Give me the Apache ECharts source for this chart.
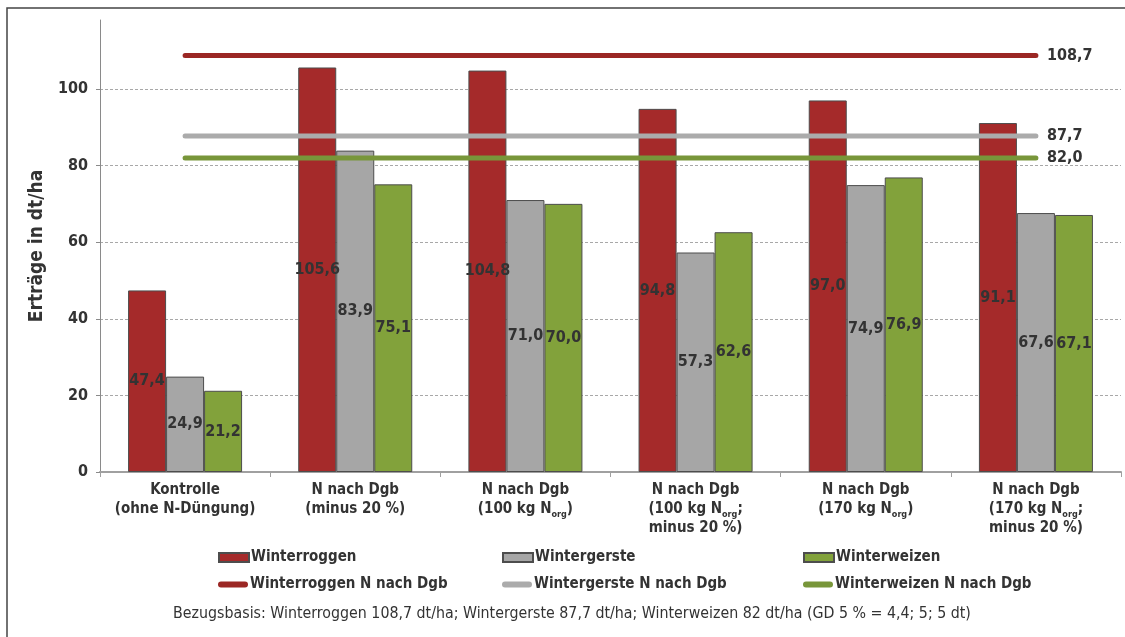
<!DOCTYPE html>
<html>
<head>
<meta charset="utf-8">
<script src="https://cdn.jsdelivr.net/npm/echarts@6/dist/echarts.min.js"></script>
<style>
  html, body { margin: 0; padding: 0; background: #fff; }
  #chart { width: 1125px; height: 637px; }
</style>
</head>
<body>
<div id="chart"></div>
<script>
// Treatments (x axis); "Norg" is drawn as N with subscript "org"
const categories = [
  'Kontrolle\n(ohne N-Düngung)',
  'N nach Dgb\n(minus 20 %)',
  'N nach Dgb\n(100 kg Norg)',
  'N nach Dgb\n(100 kg Norg;\nminus 20 %)',
  'N nach Dgb\n(170 kg Norg)',
  'N nach Dgb\n(170 kg Norg;\nminus 20 %)'
];

// Yields in dt/ha
const winterroggen = [47.4, 105.6, 104.8, 94.8, 97.0, 91.1];
const wintergerste = [24.9, 83.9, 71.0, 57.3, 74.9, 67.6];
const winterweizen = [21.2, 75.1, 70.0, 62.6, 76.9, 67.1];

// Reference yields with full N fertilisation per Düngebedarf
const refRoggen = 108.7;
const refGerste = 87.7;
const refWeizen = 82.0;

const yTicks = [0, 20, 40, 60, 80, 100];

const footnote = 'Bezugsbasis: Winterroggen 108,7 dt/ha; Wintergerste 87,7 dt/ha; Winterweizen 82 dt/ha (GD 5 % = 4,4; 5; 5 dt)';

const FONT = "'Liberation Sans Narrow', 'DejaVu Sans Condensed', 'Liberation Sans', sans-serif";
const TXT = '#333333';

const C_ROGGEN = '#a52a2a';
const C_GERSTE = '#a6a6a6';
const C_WEIZEN = '#82a23b';
const L_ROGGEN = '#9b2724';
const L_GERSTE = '#ababab';
const L_WEIZEN = '#78963a';

const comma = v => Number(v).toFixed(1).replace('.', ',');

function barSeries(name, data, color) {
  return {
    name, type: 'bar', data,
    barGap: '0%', barCategoryGap: '33%',
    itemStyle: { color, borderColor: '#4d4d4d', borderWidth: 1 },
    label: {
      show: true, position: 'inside', color: TXT,
      fontFamily: FONT, fontWeight: 'bold', fontSize: 16,
      formatter: p => comma(p.value)
    },
    z: 2
  };
}

function refSeries(name, value, color) {
  return {
    name, type: 'line',
    data: categories.map(() => value),
    symbol: 'none', silent: true,
    lineStyle: { color, width: 5, cap: 'round' },
    itemStyle: { color },
    endLabel: {
      show: true, distance: 11, color: TXT,
      fontFamily: FONT, fontWeight: 'bold', fontSize: 16,
      formatter: p => comma(p.value)
    },
    z: 4
  };
}

const lineIcon = 'path://M3,0 L27,0 A3,3 0 0 1 27,6 L3,6 A3,3 0 0 1 3,0 Z';

function legendAt(name, left, top, isLine) {
  return {
    data: [name], left, top,
    icon: isLine ? lineIcon : 'rect',
    itemWidth: 30, itemHeight: isLine ? 6 : 9,
    selectedMode: false,
    textStyle: { fontFamily: FONT, fontWeight: 'bold', fontSize: 15, color: TXT, padding: [0, 0, 0, -3] }
  };
}

const chart = echarts.init(document.getElementById('chart'));
chart.setOption({
  animation: false,
  backgroundColor: '#ffffff',
  textStyle: { fontFamily: FONT },
  grid: { left: 100, right: 4, top: 20, bottom: 165, containLabel: false },
  xAxis: {
    type: 'category',
    data: categories,
    axisLine: { lineStyle: { color: '#a0a0a0', width: 2 } },
    axisTick: { show: true, length: 5, lineStyle: { color: '#a0a0a0' } },
    axisLabel: {
      margin: 9, color: TXT, fontFamily: FONT, fontWeight: 'bold', fontSize: 15,
      lineHeight: 19, interval: 0,
      formatter: v => v.replace(/Norg/g, 'N{sub|org}'),
      rich: {
        sub: { fontFamily: FONT, fontWeight: 'bold', fontSize: 9, color: TXT, lineHeight: 6, verticalAlign: 'bottom' }
      }
    }
  },
  yAxis: {
    type: 'value',
    min: 0, max: 118, interval: 20,
    name: 'Erträge in dt/ha',
    nameLocation: 'middle', nameGap: 45,
    nameTextStyle: { fontFamily: FONT, fontWeight: 'bold', fontSize: 19, color: TXT },
    axisLine: { show: true, lineStyle: { color: '#8a8a8a', width: 1 } },
    axisTick: { show: true, length: 4, lineStyle: { color: '#8a8a8a' } },
    axisLabel: {
      margin: 12, color: TXT, fontFamily: FONT, fontWeight: 'bold', fontSize: 16,
      showMaxLabel: false,
      formatter: v => (yTicks.includes(v) ? String(v) : '')
    },
    splitLine: { show: true, showMaxLine: false, lineStyle: { color: '#a8a8a8', type: [3, 2], width: 1 } }
  },
  legend: [
    legendAt('Winterroggen', 213, 545, false),
    legendAt('Wintergerste', 497, 545, false),
    legendAt('Winterweizen', 798, 545, false),
    legendAt('Winterroggen N nach Dgb', 213, 572, true),
    legendAt('Wintergerste N nach Dgb', 497, 572, true),
    legendAt('Winterweizen N nach Dgb', 798, 572, true)
  ],
  graphic: [
    {
      type: 'rect', silent: true, z: -1,
      shape: { x: 7, y: 8, width: 1300, height: 800 },
      style: { fill: 'none', stroke: '#444444', lineWidth: 1.5 }
    },
    {
      type: 'text', silent: true,
      x: 572, y: 614,
      style: {
        text: footnote, fill: TXT, font: "15.8px " + FONT,
        textAlign: 'center', textVerticalAlign: 'middle'
      }
    }
  ],
  series: [
    barSeries('Winterroggen', winterroggen, C_ROGGEN),
    barSeries('Wintergerste', wintergerste, C_GERSTE),
    barSeries('Winterweizen', winterweizen, C_WEIZEN),
    refSeries('Winterroggen N nach Dgb', refRoggen, L_ROGGEN),
    refSeries('Wintergerste N nach Dgb', refGerste, L_GERSTE),
    refSeries('Winterweizen N nach Dgb', refWeizen, L_WEIZEN)
  ]
});
</script>
</body>
</html>
